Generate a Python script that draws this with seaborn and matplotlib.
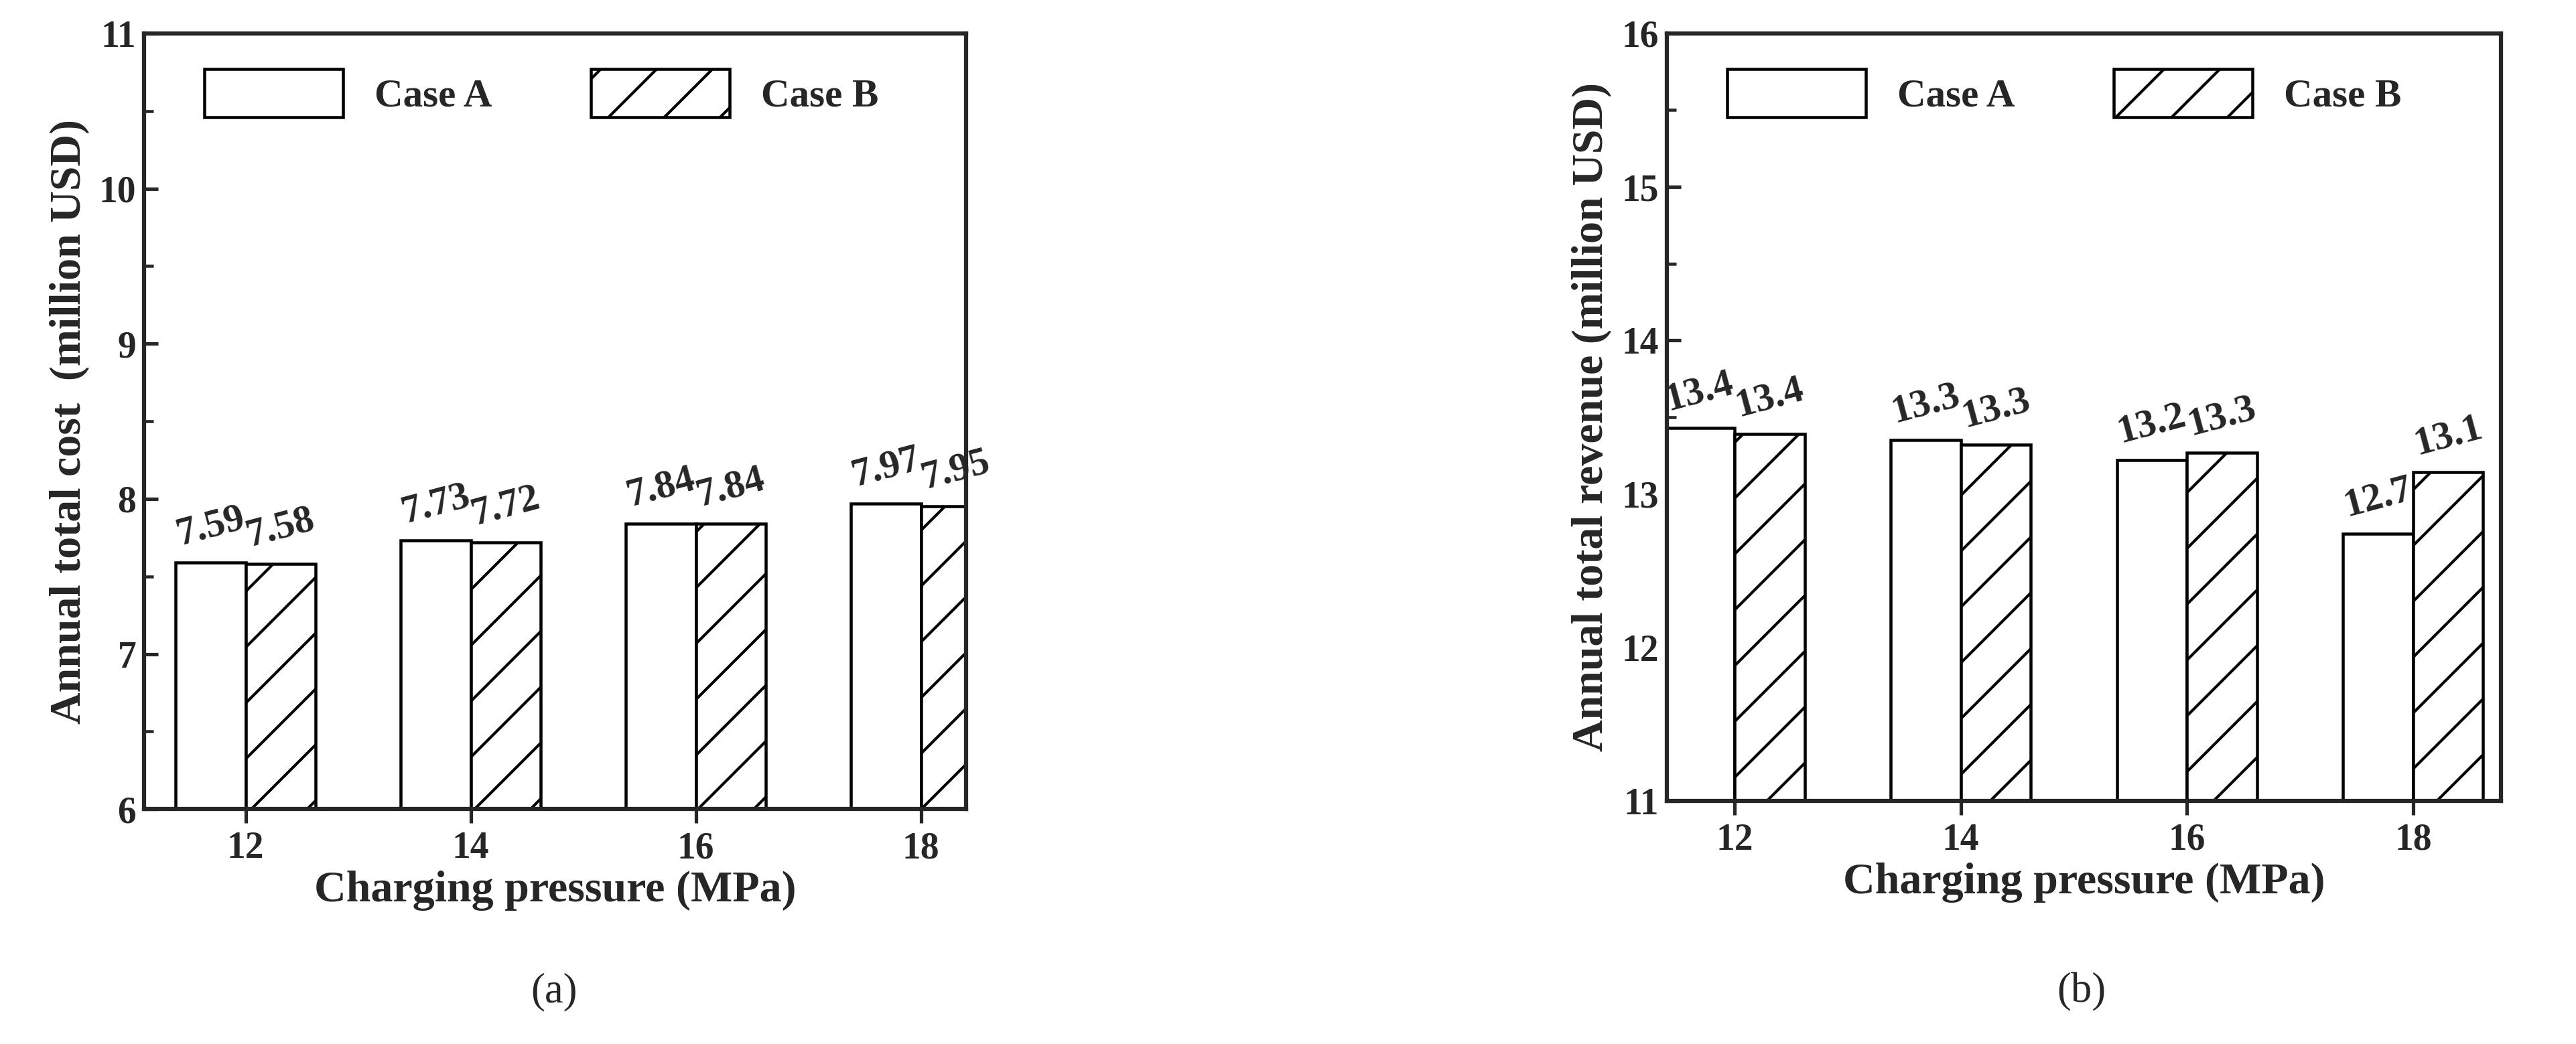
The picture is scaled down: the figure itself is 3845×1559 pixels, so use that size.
import matplotlib
matplotlib.use("Agg")
import matplotlib.pyplot as plt
import seaborn as sns
import pandas as pd
from matplotlib.ticker import MultipleLocator
from matplotlib.patches import Patch

sns.set_theme(style="ticks")
plt.rcParams['font.family'] = ['Liberation Serif', 'DejaVu Serif']
plt.rcParams['font.weight'] = 'bold'
plt.rcParams['hatch.linewidth'] = 1.2

pressure = ["12", "14", "16", "18"]
cost_a = [7.59, 7.73, 7.84, 7.97]
cost_b = [7.58, 7.72, 7.84, 7.95]
rev_a = [13.43, 13.35, 13.22, 12.74]
rev_b = [13.39, 13.32, 13.27, 13.14]
rev_lbl_a = ["13.4", "13.3", "13.2", "12.7"]
rev_lbl_b = ["13.4", "13.3", "13.3", "13.1"]

fig = plt.figure(figsize=(15.38, 6.236), dpi=250)
ax1 = fig.add_axes([0.056, 0.225, 0.319, 0.743])
ax2 = fig.add_axes([0.647, 0.233, 0.324, 0.735])

def panel(ax, va, vb, la, lb, ylim, ylabel, xlim):
    df = pd.DataFrame({"p": pressure * 2, "v": va + vb,
                       "case": ["Case A"] * 4 + ["Case B"] * 4})
    sns.barplot(data=df, x="p", y="v", hue="case", ax=ax, width=0.62,
                palette=["white", "white"], edgecolor="black", linewidth=1.3,
                legend=False)
    for i, bar in enumerate(ax.patches[:8]):
        if i >= 4:
            bar.set_hatch("/")
        lab = (la + lb)[i]
        ax.text(bar.get_x() + bar.get_width() / 2, bar.get_height() + 0.06, lab,
                ha="center", va="bottom", rotation=15, fontsize=17, fontweight="bold")
    ax.set_ylim(*ylim)
    ax.set_xlim(*xlim)
    ax.yaxis.set_major_locator(MultipleLocator(1))
    ax.yaxis.set_minor_locator(MultipleLocator(0.5))
    ax.tick_params(axis="x", labelsize=16, width=1.5, length=6, direction="out")
    ax.tick_params(axis="y", labelsize=16, width=1.5, length=6, direction="in")
    ax.tick_params(axis="y", which="minor", width=1.3, length=4, direction="in")
    for s in ax.spines.values():
        s.set_linewidth(1.8)
        s.set_visible(True)
    ax.set_xlabel("Charging pressure (MPa)", fontsize=19, fontweight="bold", labelpad=2)
    ax.set_ylabel(ylabel, fontsize=19, fontweight="bold")
    for t in ax.get_xticklabels() + ax.get_yticklabels():
        t.set_fontweight("bold")
    h = [Patch(facecolor="white", edgecolor="black", linewidth=1.3, label="Case A"),
         Patch(facecolor="white", edgecolor="black", linewidth=1.3, hatch="/", label="Case B")]
    ax.legend(handles=h, loc="upper left", ncol=2, frameon=False,
              handlelength=3.5, handleheight=1.5, columnspacing=2.5,
              bbox_to_anchor=(0.03, 1.0), prop={"weight": "bold", "size": 17})

panel(ax1, cost_a, cost_b, [f"{v:.2f}" for v in cost_a], [f"{v:.2f}" for v in cost_b],
      (6, 11), "Annual total cost  (million USD)", (-0.45, 3.2))
panel(ax2, rev_a, rev_b, rev_lbl_a, rev_lbl_b,
      (11, 16), "Annual total revenue (million USD)", (-0.3, 3.39))

fig.text(0.215, 0.04, "(a)", ha="center", fontsize=18, fontweight="normal")
fig.text(0.808, 0.04, "(b)", ha="center", fontsize=18, fontweight="normal")
fig.savefig("out.png", dpi=250, facecolor="white")
